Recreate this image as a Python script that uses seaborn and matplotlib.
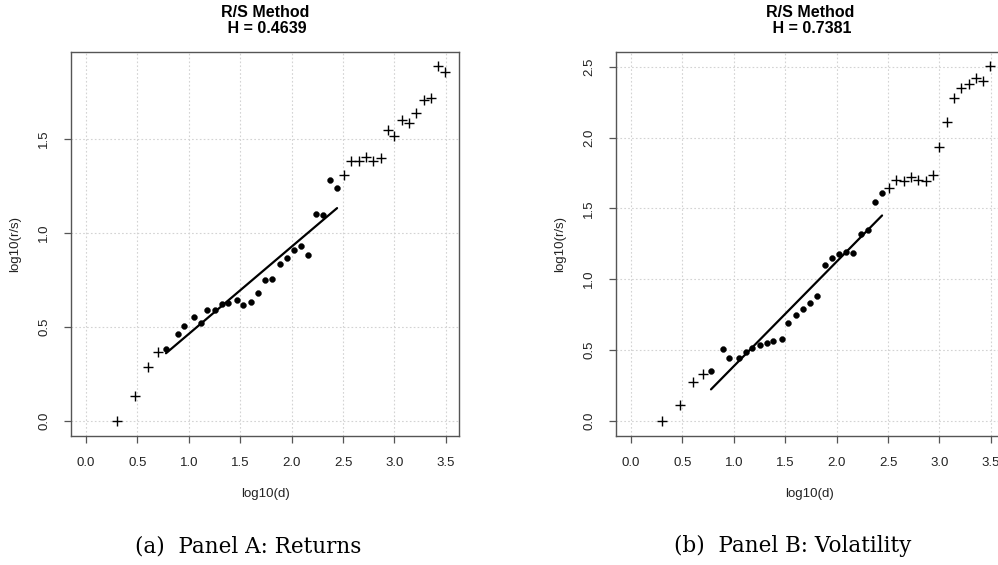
import numpy as np
import pandas as pd
import matplotlib
matplotlib.use("Agg")
import matplotlib.pyplot as plt
import seaborn as sns

# ---- data ----
log_d = [0.298, 0.477, 0.602, 0.698, 0.778, 0.896, 0.955, 1.046, 1.116, 1.173,
         1.253, 1.320, 1.384, 1.465, 1.529, 1.602, 1.676, 1.741, 1.812, 1.885,
         1.951, 2.021, 2.095, 2.160, 2.233, 2.306, 2.371, 2.442, 2.514, 2.582,
         2.655, 2.725, 2.795, 2.866, 2.935, 3.000, 3.074, 3.143, 3.211, 3.283,
         3.354, 3.423, 3.493]
rs_returns = [0.000, 0.131, 0.286, 0.367, 0.383, 0.460, 0.504, 0.552, 0.520, 0.588,
              0.588, 0.623, 0.625, 0.641, 0.618, 0.632, 0.680, 0.751, 0.756, 0.831,
              0.866, 0.907, 0.932, 0.881, 1.101, 1.092, 1.282, 1.237, 1.305, 1.379,
              1.379, 1.404, 1.379, 1.395, 1.548, 1.513, 1.600, 1.584, 1.637, 1.708,
              1.717, 1.887, 1.855]
rs_volatility = [0.000, 0.108, 0.273, 0.332, 0.351, 0.504, 0.445, 0.445, 0.485, 0.511,
                 0.534, 0.546, 0.560, 0.574, 0.692, 0.744, 0.791, 0.833, 0.880, 1.097,
                 1.149, 1.179, 1.191, 1.184, 1.318, 1.349, 1.547, 1.605, 1.643, 1.697,
                 1.690, 1.718, 1.697, 1.693, 1.737, 1.933, 2.112, 2.281, 2.352, 2.375,
                 2.418, 2.401, 2.502]
fit_start, fit_end = 4, 28          # points used in the fit (drawn as dots)
hurst = [0.4639, 0.7381]
intercepts = [-0.002, -0.353]
titles = ["R/S Method\n H = 0.4639", "R/S Method\n H = 0.7381"]
captions = ["(a)  Panel A: Returns", "(b)  Panel B: Volatility"]
xticks = [0.0, 0.5, 1.0, 1.5, 2.0, 2.5, 3.0, 3.5]
yticks_list = [[0.0, 0.5, 1.0, 1.5], [0.0, 0.5, 1.0, 1.5, 2.0, 2.5]]
ylims = [(-0.081, 1.961), (-0.108, 2.604)]

sns.set_theme(style="white")
plt.rcParams['font.family'] = ['Liberation Sans', 'DejaVu Sans']

W, H = 998, 565
fig = plt.figure(figsize=(W / 100, H / 100), dpi=100)
fig.patch.set_facecolor("white")

boxes = [(71, 52, 459, 436), (616, 52, 1004, 436)]
cap_x = [248, 793]
title_x = [265, 810]

for i, (l, t, r, b) in enumerate(boxes):
    ax = fig.add_axes([l / W, 1 - b / H, (r - l) / W, (b - t) / H])
    ys = rs_returns if i == 0 else rs_volatility
    df = pd.DataFrame({"x": log_d, "y": ys})
    df["kind"] = ["fit" if fit_start <= k < fit_end else "out" for k in range(len(df))]
    fit = df[df["kind"] == "fit"].copy()
    out = df[df["kind"] == "out"]
    fit["yhat"] = hurst[i] * fit["x"] + intercepts[i]

    # grid
    for xv in xticks:
        ax.axvline(xv, color="#d3d3d3", lw=0.8, ls=(0, (1.5, 2)), zorder=0)
    for yv in yticks_list[i]:
        ax.axhline(yv, color="#d3d3d3", lw=0.8, ls=(0, (1.5, 2)), zorder=0)

    sns.scatterplot(data=out, x="x", y="y", marker="+", s=60, color="black",
                    linewidth=1.0, ax=ax, zorder=3)
    sns.scatterplot(data=fit, x="x", y="y", marker="o", s=18, color="black",
                    edgecolor="black", linewidth=0.3, ax=ax, zorder=3)
    sns.lineplot(data=fit, x="x", y="yhat", color="black", lw=1.6, ax=ax, zorder=2)

    ax.set_xlim(-0.146, 3.628)
    ax.set_ylim(*ylims[i])
    ax.set_xticks(xticks)
    ax.set_xticklabels([f"{v:.1f}" for v in xticks])
    ax.set_yticks(yticks_list[i])
    ax.set_yticklabels([f"{v:.1f}" for v in yticks_list[i]], rotation=90, va="center")
    ax.tick_params(axis="both", direction="out", length=5, width=0.9, color="#555555",
                   labelsize=9.5, labelcolor="#222222", pad=10, bottom=True, left=True)
    for sp in ax.spines.values():
        sp.set_color("#555555")
        sp.set_linewidth(1.0)
    ax.set_xlabel("log10(d)", fontsize=9.5, color="#222222", labelpad=14)
    ax.set_ylabel("log10(r/s)", fontsize=9.5, color="#222222", labelpad=12)

    fig.text(title_x[i] / W, 1 - 20.5 / H, titles[i], ha="center", va="center",
             fontsize=11.5, fontweight="bold", linespacing=1.15, color="black")

    fig.text(cap_x[i] / W, 1 - 546 / H, captions[i], ha="center", va="center",
             fontsize=15.5, family=["DejaVu Serif"], color="black")

fig.savefig("out.png", dpi=100, facecolor="white")
